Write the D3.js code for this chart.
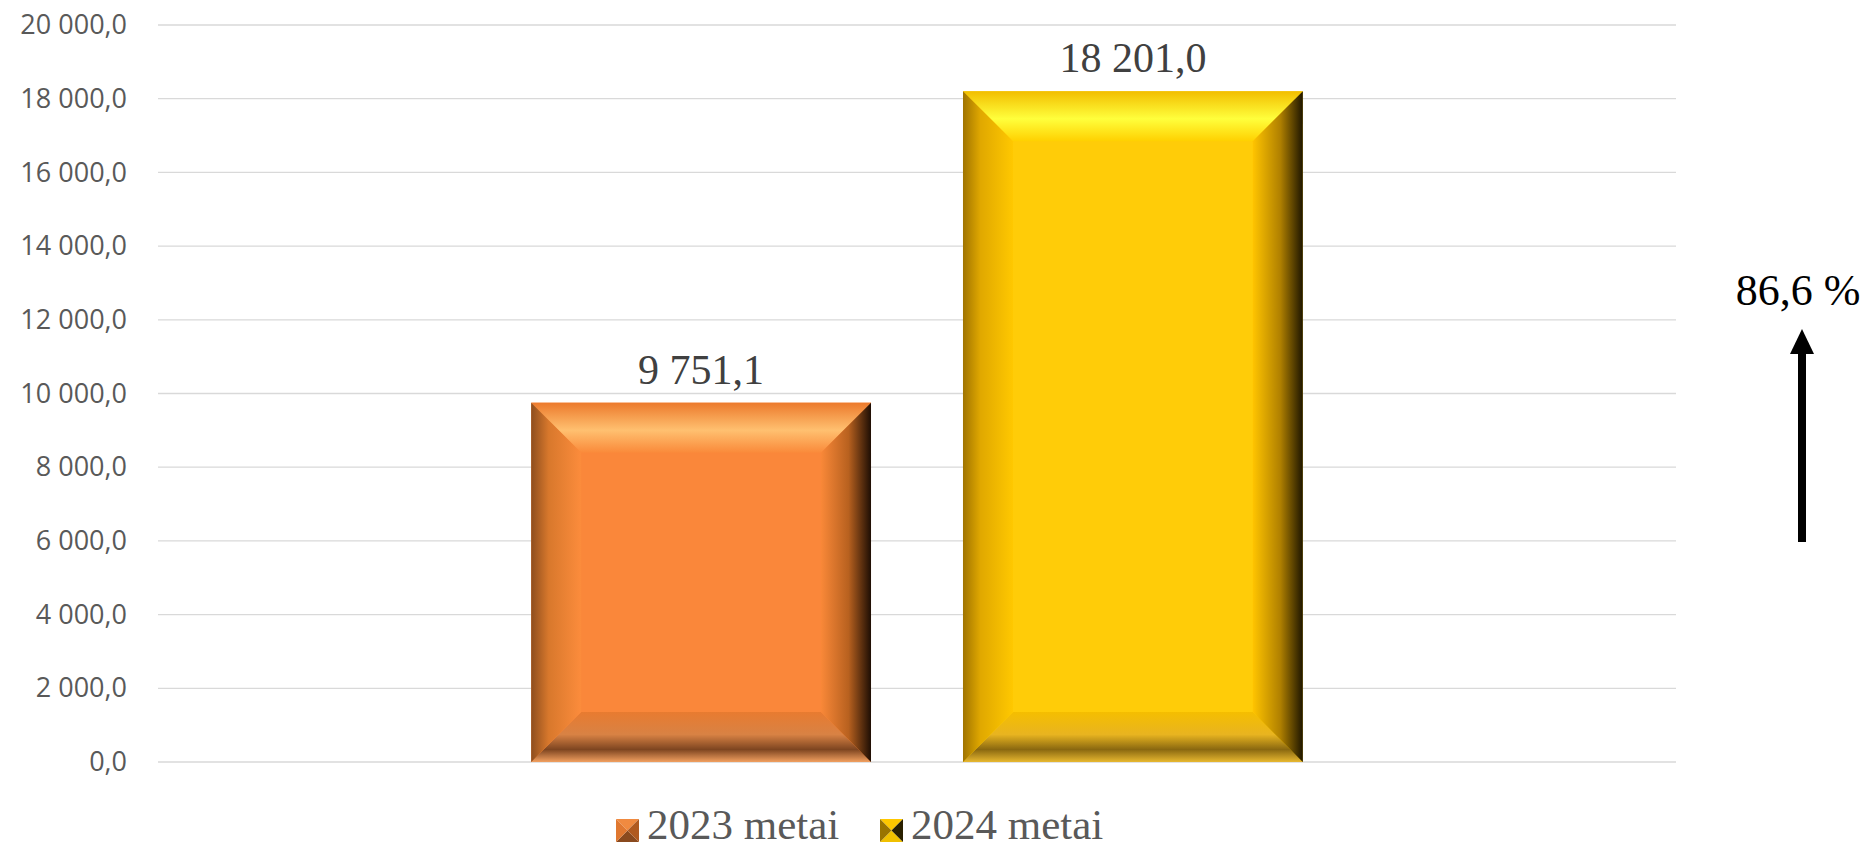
<!DOCTYPE html>
<html><head><meta charset="utf-8">
<script src="https://cdn.jsdelivr.net/npm/d3@7"></script>
<style>html,body{margin:0;padding:0;background:#fff;}svg{display:block;}</style>
</head><body>
<script>
const categories = ["Kategorija"];
const seriesNames = ["2023 metai", "2024 metai"];
const seriesValues = [9751.1, 18201.0];
const yTicks = [0, 2000, 4000, 6000, 8000, 10000, 12000, 14000, 16000, 18000, 20000];
const changeLabel = "86,6 %";

const W = 1869, H = 849;
const svg = d3.select("body").append("svg").attr("width", W).attr("height", H);
const defs = svg.append("defs");

const locale = d3.formatLocale({decimal: ",", thousands: " ", grouping: [3], currency: ["", ""]});
const fmt = locale.format(",.1f");

const plotL = 158, plotR = 1676, plotT = 25, plotB = 762;
const y = d3.scaleLinear().domain([0, 20000]).range([plotB, plotT]);
const x0 = d3.scaleBand().domain(categories).range([plotL, plotR]).paddingInner(0.326).paddingOuter(0.326);
const x1 = d3.scaleBand().domain(seriesNames).range([0, x0.bandwidth()]).paddingInner(0.213).paddingOuter(0);

const pal = {
  "2023 metai": {
    face: "#FA873A",
    top: [["0%", "#EC7A2C"], ["55%", "#FFC070"], ["100%", "#FA8A3A"]],
    left: [["0%", "#8E4E1E"], ["35%", "#D8782C"], ["100%", "#FC8C3C"]],
    right: [["0%", "#F98838"], ["55%", "#B8611F"], ["100%", "#1E0E04"]],
    bottom: [["0%", "#E87B30"], ["45%", "#D88244"], ["75%", "#7E4520"], ["100%", "#F2A060"]]
  },
  "2024 metai": {
    face: "#FFCC08",
    top: [["0%", "#F2BE00"], ["55%", "#FFFF3C"], ["100%", "#FFD000"]],
    left: [["0%", "#A07400"], ["35%", "#E0A800"], ["100%", "#FFC800"]],
    right: [["0%", "#FFC400"], ["55%", "#B08000"], ["100%", "#1E1600"]],
    bottom: [["0%", "#F5BE00"], ["45%", "#E8B420"], ["75%", "#8A6810"], ["100%", "#E8B830"]]
  }
};

function grad(id, stops, x2, y2) {
  const g = defs.append("linearGradient").attr("id", id)
    .attr("x1", 0).attr("y1", 0).attr("x2", x2).attr("y2", y2);
  stops.forEach(s => g.append("stop").attr("offset", s[0]).attr("stop-color", s[1]));
}
seriesNames.forEach((s, i) => {
  const p = pal[s];
  grad("top" + i, p.top, 0, 1);
  grad("bot" + i, p.bottom, 0, 1);
  grad("left" + i, p.left, 1, 0);
  grad("right" + i, p.right, 1, 0);
});

svg.append("g").selectAll("line").data(yTicks).join("line")
  .attr("x1", plotL).attr("x2", plotR)
  .attr("y1", d => y(d)).attr("y2", d => y(d))
  .attr("stroke", "#D9D9D9").attr("stroke-width", 1.3);

const yAxis = d3.axisLeft(y).tickValues(yTicks).tickFormat(fmt).tickSize(0).tickPadding(0);
const ya = svg.append("g").attr("transform", `translate(127,0)`).call(yAxis);
ya.select(".domain").remove();
ya.selectAll("text").attr("font-family", "'Open Sans', sans-serif").attr("font-size", 27)
  .attr("fill", "#595959");

const bev = 50;
const gBars = svg.append("g");
seriesNames.forEach((s, i) => {
  const xl = x0(categories[0]) + x1(s), xr = xl + x1.bandwidth();
  const yt = y(seriesValues[i]), yb = y(0);
  const b = Math.min(bev, (yb - yt) / 2);
  const g = gBars.append("g");
  g.append("rect").attr("x", xl).attr("y", yt).attr("width", xr - xl).attr("height", yb - yt).attr("fill", pal[s].face);
  const poly = (pts, fill) => g.append("polygon").attr("points", pts.map(p => p.join(",")).join(" ")).attr("fill", fill);
  poly([[xl, yt], [xr, yt], [xr - b, yt + b], [xl + b, yt + b]], `url(#top${i})`);
  poly([[xl, yb], [xr, yb], [xr - b, yb - b], [xl + b, yb - b]], `url(#bot${i})`);
  poly([[xl, yt], [xl + b, yt + b], [xl + b, yb - b], [xl, yb]], `url(#left${i})`);
  poly([[xr, yt], [xr - b, yt + b], [xr - b, yb - b], [xr, yb]], `url(#right${i})`);
  g.append("text").attr("x", (xl + xr) / 2).attr("y", yt - 19).attr("text-anchor", "middle")
    .attr("font-family", "'Liberation Serif', 'Times New Roman', serif").attr("font-size", 42)
    .attr("fill", "#404040").text(fmt(seriesValues[i]));
});

svg.append("text").attr("x", 1798).attr("y", 305).attr("text-anchor", "middle")
  .attr("font-family", "'Liberation Serif', 'Times New Roman', serif").attr("font-size", 44)
  .attr("fill", "#000").text(changeLabel);
svg.append("rect").attr("x", 1798).attr("y", 350).attr("width", 8).attr("height", 192).attr("fill", "#000");
svg.append("polygon").attr("points", "1802,329 1790,354 1814,354").attr("fill", "#000");

const legX = [616, 880];
const lg = svg.append("g");
seriesNames.forEach((s, i) => {
  const x = legX[i], yy = 819, sz = 23, c = sz / 2;
  const g = lg.append("g");
  const tri = (pts, fill) => g.append("polygon").attr("points", pts.map(q => q.join(",")).join(" ")).attr("fill", fill);
  tri([[x, yy], [x + sz, yy], [x + c, yy + c]], i === 0 ? "#F08A40" : "#FFC800");
  tri([[x, yy + sz], [x + sz, yy + sz], [x + c, yy + c]], i === 0 ? "#8A4A1E" : "#F0C000");
  tri([[x, yy], [x, yy + sz], [x + c, yy + c]], i === 0 ? "#E07830" : "#9A7400");
  tri([[x + sz, yy], [x + sz, yy + sz], [x + c, yy + c]], i === 0 ? "#B05A20" : "#2A2000");
  g.append("text").attr("x", x + 31).attr("y", 839)
    .attr("font-family", "'Liberation Serif', 'Times New Roman', serif").attr("font-size", 43)
    .attr("fill", "#595959").text(s);
});
</script>
</body></html>
